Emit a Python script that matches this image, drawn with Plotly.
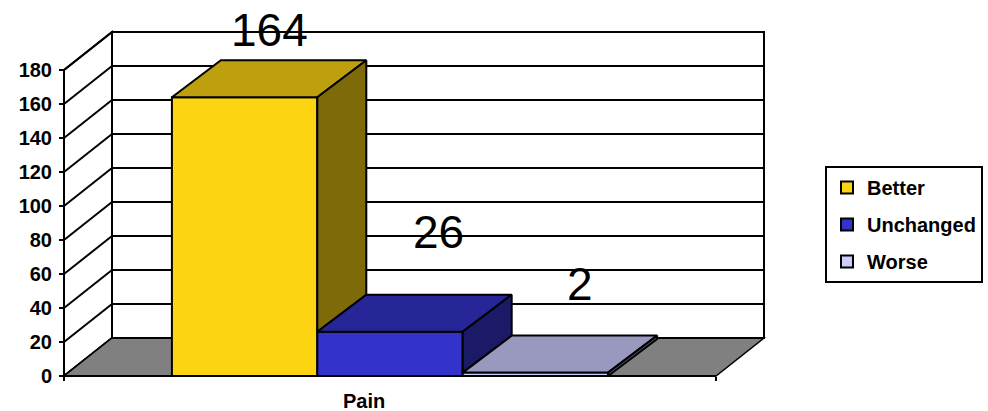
import plotly.graph_objects as go

# ---------------- data ----------------
categories = ["Pain"]
series_names = ["Better", "Unchanged", "Worse"]
values = [164, 26, 2]
ytick_vals = [0, 20, 40, 60, 80, 100, 120, 140, 160, 180]
ytick_text = [str(v) for v in ytick_vals]

# ---------------- styles ----------------
front_colors = ["#FDD412", "#3333CC", "#CCCCFF"]
top_colors = ["#BEA00E", "#262699", "#9999BF"]
side_colors = ["#7F6A09", "#1A1A66", "#666680"]
label_shift = [(25, 67), (48, 100), (45, 89)]  # (xshift, yshift) px for value labels

W, H = 988, 411
ml, mr, mt, mb = 56, 216, 26, 29
plot_w = W - ml - mr
plot_h = H - mt - mb
px_x = 652.0        # px per category unit
px_y = 1.7          # px per value unit
front_left_px = 64
zero_px = 376
xmin = -0.5 - (front_left_px - ml) / px_x
xmax = xmin + plot_w / px_x
ymin = -((mt + plot_h) - zero_px) / px_y
ymax = ymin + plot_h / px_y
ytop = ytick_vals[-1]

DX, DY = 48 / px_x, 38 / px_y     # wall / floor depth
BDX, BDY = 49 / px_x, 37 / px_y   # bar depth
group_width = 0.669
bw = group_width / len(values)
cat_pos = 0.0

FONT = "Liberation Sans, Arial, sans-serif"

fig = go.Figure()

# bar front faces (legend entries)
centers = []
for i, (name, v) in enumerate(zip(series_names, values)):
    c = cat_pos + (i - (len(values) - 1) / 2) * bw
    centers.append(c)
    fig.add_trace(go.Bar(
        x=[c], y=[v], width=[bw], name=name,
        marker=dict(color=front_colors[i], line=dict(color="black", width=2)),
        legendgroup=name, hoverinfo="skip"))

# 3D top and side faces
for i, v in enumerate(values):
    x0 = centers[i] - bw / 2
    x1 = centers[i] + bw / 2
    base = values[i + 1] if i + 1 < len(values) else 0
    fig.add_trace(go.Scatter(
        x=[x0, x1, x1 + BDX, x0 + BDX, x0],
        y=[v, v, v + BDY, v + BDY, v],
        mode="lines", fill="toself", fillcolor=top_colors[i],
        line=dict(color="black", width=2), showlegend=False, hoverinfo="skip"))
    fig.add_trace(go.Scatter(
        x=[x1, x1, x1 + BDX, x1 + BDX, x1],
        y=[base, v, v + BDY, base + BDY, base],
        mode="lines", fill="toself", fillcolor=side_colors[i],
        line=dict(color="black", width=2), showlegend=False, hoverinfo="skip"))

shapes = []
L, R = -0.5, 0.5
# left wall
shapes.append(dict(type="path", xref="x", yref="y", layer="below",
                   path=f"M{L},0 L{L},{ytop} L{L+DX},{ytop+DY} L{L+DX},{DY} Z",
                   fillcolor="white", line=dict(color="black", width=2)))
# back wall
shapes.append(dict(type="rect", xref="x", yref="y", layer="below",
                   x0=L + DX, x1=R + DX, y0=DY, y1=ytop + DY,
                   fillcolor="white", line=dict(color="black", width=2)))
# gridlines on back wall and left wall
for v in ytick_vals:
    shapes.append(dict(type="line", xref="x", yref="y", layer="below",
                       x0=L + DX, x1=R + DX, y0=v + DY, y1=v + DY,
                       line=dict(color="black", width=2)))
    shapes.append(dict(type="line", xref="x", yref="y", layer="below",
                       x0=L, x1=L + DX, y0=v, y1=v + DY,
                       line=dict(color="black", width=2)))
# floor
shapes.append(dict(type="path", xref="x", yref="y", layer="below",
                   path=f"M{L},0 L{R},0 L{R+DX},{DY} L{L+DX},{DY} Z",
                   fillcolor="#808080", line=dict(color="black", width=1.5)))
shapes.append(dict(type="line", xref="x", yref="y", layer="below",
                   x0=L + DX, x1=R + DX, y0=DY, y1=DY,
                   line=dict(color="black", width=2)))
# front axis lines
shapes.append(dict(type="line", xref="x", yref="y", layer="above",
                   x0=L, x1=L, y0=0, y1=ytop, line=dict(color="black", width=2)))
shapes.append(dict(type="line", xref="x", yref="y", layer="above",
                   x0=L, x1=R, y0=0, y1=0, line=dict(color="black", width=2)))

annotations = []
for i, v in enumerate(values):
    annotations.append(dict(x=centers[i], y=v, xref="x", yref="y", text=str(v),
                            showarrow=False, xanchor="center", yanchor="middle",
                            xshift=label_shift[i][0], yshift=label_shift[i][1],
                            font=dict(family=FONT, size=46, color="black")))
annotations.append(dict(x=cat_pos, y=0, xref="x", yref="y", text=categories[0],
                        showarrow=False, xanchor="center", yanchor="middle",
                        xshift=-26, yshift=-25,
                        font=dict(family=FONT, size=20, color="black", weight="bold")))

fig.update_layout(
    width=W, height=H,
    margin=dict(l=ml, r=mr, t=mt, b=mb, pad=0, autoexpand=False),
    paper_bgcolor="white", plot_bgcolor="white",
    barmode="overlay",
    shapes=shapes, annotations=annotations,
    xaxis=dict(range=[xmin, xmax], showgrid=False, zeroline=False, showline=False,
               anchor="free", position=(mt + plot_h - zero_px) / plot_h,
               tickvals=[L, R], ticks="outside", ticklen=4, tickwidth=2,
               tickcolor="black", showticklabels=False, fixedrange=True,
               automargin=False),
    yaxis=dict(range=[ymin, ymax], showgrid=False, zeroline=False, showline=False,
               anchor="free", position=(front_left_px - ml) / plot_w,
               tickvals=ytick_vals, ticktext=ytick_text, ticks="outside",
               ticklen=5, tickwidth=2, tickcolor="black", ticklabelstandoff=3,
               tickfont=dict(family=FONT, size=20, color="black", weight="bold"),
               fixedrange=True, automargin=False),
    legend=dict(xref="container", yref="container", x=825 / W, y=1 - 166 / H,
                xanchor="left", yanchor="top",
                bgcolor="white", bordercolor="black", borderwidth=2,
                font=dict(family=FONT, size=20, color="black", weight="bold"),
                tracegroupgap=8, traceorder="grouped"),
    showlegend=True,
)

fig.write_html("out.html", config={"displayModeBar": False},
               post_script="document.body.style.margin='0';document.body.style.overflow='hidden';")
